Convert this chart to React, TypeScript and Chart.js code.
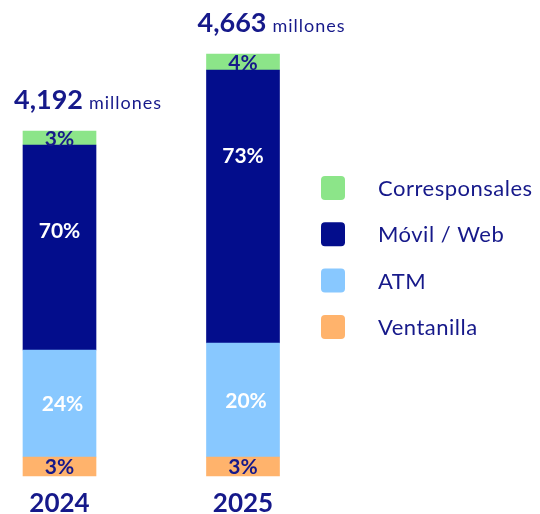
import React, { useEffect, useRef } from "react";
import { Chart, registerables } from "chart.js";

Chart.register(...registerables);

// Categories and totals
const years = ["2024", "2025"];
const totalLabels = ["4,192", "4,663"];
const unitLabel = "millones";

// Series names (bottom to top of the stack)
const seriesNames = ["Ventanilla", "ATM", "Móvil / Web", "Corresponsales"];

// Percentages printed on each segment
const ventanillaPct = [3, 3];
const atmPct = [24, 20];
const movilPct = [70, 73];
const corresponsalesPct = [3, 4];

// Segment lengths as drawn in the infographic (stylised, not to scale of the %)
const ventanillaDrawn = [19, 19];
const atmDrawn = [107, 114];
const movilDrawn = [205, 273];
const corresponsalesDrawn = [14, 16];

const COLORS = {
  ventanilla: "#FFB36C",
  atm: "#88C8FF",
  movil: "#030D8C",
  corresponsales: "#8CE589",
  text: "#16198A",
};

const FONT = "Lato, 'Open Sans', sans-serif";

export default function App() {
  const ref = useRef<HTMLCanvasElement>(null);

  useEffect(() => {
    if (!ref.current) return;

    const labelsPlugin = {
      id: "infoLabels",
      afterDatasetsDraw(chart: any) {
        const ctx = chart.ctx as any;
        ctx.save();
        // segment labels
        chart.data.datasets.forEach((ds: any, i: number) => {
          const meta = chart.getDatasetMeta(i);
          meta.data.forEach((el: any, j: number) => {
            const p = el.getProps(["x", "y", "base"], true);
            const top = Math.min(p.y, p.base);
            const bottom = Math.max(p.y, p.base);
            const cy = ds.labelOffset != null ? top + ds.labelOffset : (top + bottom) / 2;
            ctx.letterSpacing = "0px";
            ctx.font = `bold 21px ${FONT}`;
            ctx.fillStyle = ds.labelColor;
            ctx.textAlign = "center";
            ctx.textBaseline = "middle";
            ctx.fillText(ds.pct[j] + "%", p.x + (ds.labelDx || 0), cy + 1);
          });
        });

        // totals above bars
        const topMeta = chart.getDatasetMeta(chart.data.datasets.length - 1);
        topMeta.data.forEach((el: any, j: number) => {
          const p = el.getProps(["x", "y", "width"], true);
          const left = p.x - p.width / 2 - 9;
          const baseY = p.y - 22;
          ctx.textAlign = "left";
          ctx.textBaseline = "alphabetic";
          ctx.fillStyle = COLORS.text;
          ctx.letterSpacing = "0px";
          ctx.font = `bold 27px ${FONT}`;
          ctx.fillText(totalLabels[j], left, baseY);
          const w = ctx.measureText(totalLabels[j]).width;
          ctx.letterSpacing = "1px";
          ctx.font = `18px ${FONT}`;
          ctx.fillText(unitLabel, left + w + 6, baseY);
        });

        // year labels below bars
        const botMeta = chart.getDatasetMeta(0);
        botMeta.data.forEach((el: any, j: number) => {
          const p = el.getProps(["x", "base"], true);
          ctx.textAlign = "center";
          ctx.textBaseline = "alphabetic";
          ctx.fillStyle = COLORS.text;
          ctx.letterSpacing = "0px";
          ctx.font = `bold 26px ${FONT}`;
          ctx.fillText(years[j], p.x, p.base + 36);
        });

        // legend (top to bottom: reverse stack order)
        const order = [3, 2, 1, 0];
        order.forEach((di, r) => {
          const ds = chart.data.datasets[di];
          const cy = 188 + r * 46.3;
          ctx.fillStyle = ds.backgroundColor;
          ctx.beginPath();
          ctx.roundRect(321, cy - 12, 24, 24, 4);
          ctx.fill();
          ctx.fillStyle = COLORS.text;
          ctx.letterSpacing = "0.5px";
          ctx.font = `22px ${FONT}`;
          ctx.textAlign = "left";
          ctx.textBaseline = "middle";
          ctx.fillText(seriesNames[di], 378, cy + 1);
        });
        ctx.restore();
      },
    };

    const chart = new Chart(ref.current, {
      type: "bar",
      data: {
        labels: years,
        datasets: [
          {
            label: seriesNames[0],
            data: ventanillaDrawn,
            backgroundColor: COLORS.ventanilla,
            pct: ventanillaPct,
            labelColor: COLORS.text,
          },
          {
            label: seriesNames[1],
            data: atmDrawn,
            backgroundColor: COLORS.atm,
            pct: atmPct,
            labelColor: "#FFFFFF",
            labelDx: 3,
          },
          {
            label: seriesNames[2],
            data: movilDrawn,
            backgroundColor: COLORS.movil,
            pct: movilPct,
            labelColor: "#FFFFFF",
            labelOffset: 85,
          },
          {
            label: seriesNames[3],
            data: corresponsalesDrawn,
            backgroundColor: COLORS.corresponsales,
            pct: corresponsalesPct,
            labelColor: COLORS.text,
          },
        ] as any,
      },
      options: {
        responsive: false,
        animation: false,
        devicePixelRatio: 1,
        layout: { padding: { left: 59.5, right: 297, top: 54, bottom: 38 } },
        datasets: { bar: { barThickness: 73, borderWidth: 0, clip: false } } as any,
        scales: {
          x: { stacked: true, display: false, offset: false, grid: { display: false } },
          y: { stacked: true, display: false, min: 0, max: 422, grid: { display: false } },
        },
        plugins: { legend: { display: false }, tooltip: { enabled: false } },
      },
      plugins: [labelsPlugin],
    });
    return () => chart.destroy();
  }, []);

  return (
    <div style={{ position: "absolute", left: 0, top: 0, width: 540, height: 514, background: "#fff" }}>
      <canvas ref={ref} width={540} height={514} style={{ width: 540, height: 514, display: "block" }} />
    </div>
  );
}
